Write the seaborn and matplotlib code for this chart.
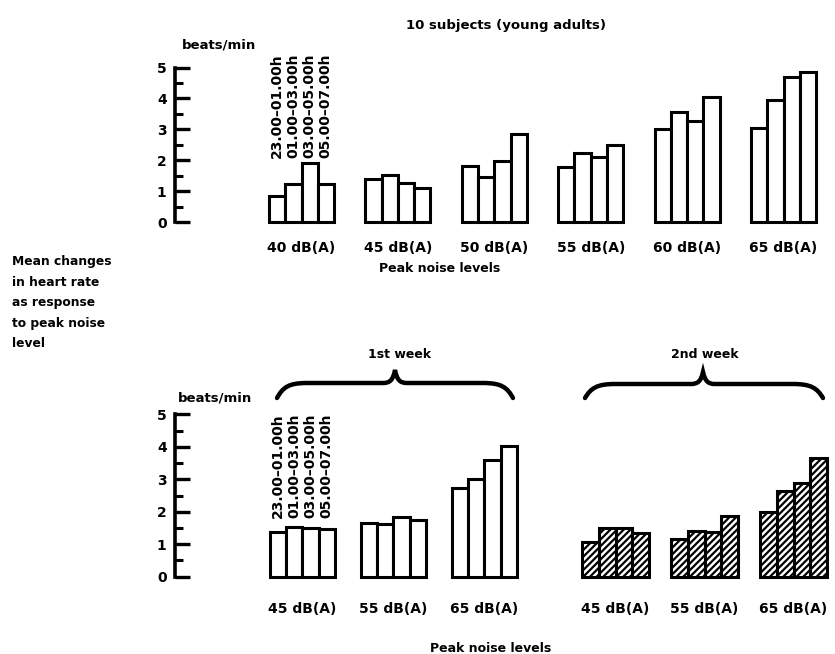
import numpy as np
import pandas as pd
import matplotlib
matplotlib.use("Agg")
import matplotlib.pyplot as plt
from matplotlib.path import Path
from matplotlib.patches import PathPatch
import seaborn as sns

# ---------------- data ----------------
slots = ["23.00–01.00h", "01.00–03.00h", "03.00–05.00h", "05.00–07.00h"]

top_levels = ["40 dB(A)", "45 dB(A)", "50 dB(A)", "55 dB(A)", "60 dB(A)", "65 dB(A)"]
top_40 = [0.85, 1.22, 1.90, 1.22]
top_45 = [1.39, 1.52, 1.27, 1.10]
top_50 = [1.82, 1.47, 1.97, 2.84]
top_55 = [1.79, 2.22, 2.11, 2.49]
top_60 = [3.00, 3.55, 3.28, 4.04]
top_65 = [3.03, 3.95, 4.68, 4.85]

week_levels = ["45 dB(A)", "55 dB(A)", "65 dB(A)"]
wk1_45 = [1.38, 1.54, 1.51, 1.46]
wk1_55 = [1.64, 1.63, 1.83, 1.74]
wk1_65 = [2.72, 3.00, 3.59, 4.02]
wk2_45 = [1.08, 1.49, 1.49, 1.34]
wk2_55 = [1.15, 1.41, 1.37, 1.88]
wk2_65 = [1.98, 2.64, 2.87, 3.66]

title = "10 subjects (young adults)"
side_text = "Mean changes\nin heart rate\nas response\nto peak noise\nlevel"
unit_label = "beats/min"
xlab = "Peak noise levels"
week_names = ["1st week", "2nd week"]


def long_df(levels, rows):
    recs = []
    for lev, vals in zip(levels, rows):
        for s, v in zip(slots, vals):
            recs.append({"level": lev, "slot": s, "value": v})
    return pd.DataFrame(recs)


df_top = long_df(top_levels, [top_40, top_45, top_50, top_55, top_60, top_65])
df_w1 = long_df(week_levels, [wk1_45, wk1_55, wk1_65])
df_w2 = long_df(week_levels, [wk2_45, wk2_55, wk2_65])

# ---------------- style ----------------
sns.set_theme(style="white")
plt.rcParams["font.family"] = ["DejaVu Sans"]
plt.rcParams["font.weight"] = "bold"
plt.rcParams["hatch.linewidth"] = 1.6
for k in ["text.color", "axes.labelcolor", "xtick.color", "ytick.color"]:
    plt.rcParams[k] = "black"

W, H = 835, 654
fig = plt.figure(figsize=(W / 100, H / 100), dpi=100)


def fx(px):
    return px / W


def fy(py):
    return 1 - py / H


def make_axes(left, right, y0, y5, cat0, unit):
    ax = fig.add_axes([fx(left), fy(y0), (right - left) / W, (y0 - y5) / H])
    return ax, ((left - cat0) / unit, (right - cat0) / unit)


def draw_bars(ax, data, order, width, hatch=None):
    sns.barplot(data=data, x="level", y="value", hue="slot", order=order,
                hue_order=slots, palette=["white"] * 4, saturation=1,
                width=width, gap=0, edgecolor="black", linewidth=2.2,
                legend=False, ax=ax, errorbar=None)
    for p in ax.patches:
        p.set_clip_on(False)
        if hatch:
            p.set_hatch(hatch)
    ax.set_xlabel("")
    ax.set_ylabel("")
    ax.set_ylim(0, 5)
    for s in ["top", "right", "bottom"]:
        ax.spines[s].set_visible(False)


def style_y(ax):
    ax.spines["left"].set_linewidth(2.6)
    ax.spines["left"].set_color("black")
    ax.set_yticks(range(0, 6))
    ax.set_yticks(np.arange(0.5, 5, 1.0), minor=True)
    ax.tick_params(axis="y", which="major", direction="in", length=11,
                   width=2.4, color="black", labelsize=10, pad=6, left=True)
    ax.tick_params(axis="y", which="minor", direction="in", length=6,
                   width=2.2, color="black", left=True)
    for t in ax.get_yticklabels():
        t.set_fontweight("bold")


def slot_labels(ax, ybase):
    n = len(ax.patches) // len(slots)
    for j, s in enumerate(slots):
        p = ax.patches[j * n]
        ax.text(p.get_x() + p.get_width() / 2, ybase, s, rotation=90,
                ha="center", va="bottom", fontsize=10, fontweight="bold")


# ---------------- top chart ----------------
ax1, xl1 = make_axes(175, 825, 222, 67.5, 301.5, 96.4)
draw_bars(ax1, df_top, top_levels, 0.674)
ax1.set_xlim(*xl1)
style_y(ax1)
ax1.tick_params(axis="x", length=0, labelsize=10, pad=14)
slot_labels(ax1, 2.07)

# ---------------- bottom charts ----------------
ax2, xl2 = make_axes(175, 545, 576.7, 414.3, 302.5, 91)
draw_bars(ax2, df_w1, week_levels, 0.714)
ax2.set_xlim(*xl2)
style_y(ax2)
ax2.tick_params(axis="x", length=0, labelsize=10, pad=18)
slot_labels(ax2, 1.8)

ax3, xl3 = make_axes(555, 835, 576.7, 414.3, 615.5, 89)
draw_bars(ax3, df_w2, week_levels, 0.753, hatch="/////")
ax3.set_xlim(*xl3)
ax3.spines["left"].set_visible(False)
ax3.set_yticks([])
ax3.tick_params(axis="x", length=0, labelsize=10, pad=18)

for ax in (ax1, ax2, ax3):
    for t in ax.get_xticklabels():
        t.set_fontweight("bold")
    ax.patch.set_alpha(0)

# ---------------- texts ----------------
fig.text(fx(506), fy(25), title, ha="center", va="center", fontsize=9.5, fontweight="bold")
fig.text(fx(219), fy(45), unit_label, ha="center", va="center", fontsize=9.5, fontweight="bold")
fig.text(fx(215), fy(398), unit_label, ha="center", va="center", fontsize=9.5, fontweight="bold")
fig.text(fx(440), fy(269), xlab, ha="center", va="center", fontsize=9, fontweight="bold")
fig.text(fx(491), fy(648), xlab, ha="center", va="center", fontsize=9, fontweight="bold")
fig.text(fx(12), fy(255), side_text, ha="left", va="top", fontsize=8.8,
         fontweight="bold", linespacing=1.75)
fig.text(fx(400), fy(355), week_names[0], ha="center", va="center", fontsize=9, fontweight="bold")
fig.text(fx(705), fy(355), week_names[1], ha="center", va="center", fontsize=9, fontweight="bold")


def brace(x0, x1, xm, yend, yflat, ypeak):
    pts = [(x0, yend),
           (x0 + 6, yflat + 4), (x0 + 12, yflat), (x0 + 30, yflat),
           (xm - 12, yflat),
           (xm - 5, yflat), (xm - 2, yflat - 3), (xm, ypeak),
           (xm + 2, yflat - 3), (xm + 5, yflat), (xm + 12, yflat),
           (x1 - 30, yflat),
           (x1 - 12, yflat), (x1 - 6, yflat + 4), (x1, yend)]
    codes = [Path.MOVETO,
             Path.CURVE4, Path.CURVE4, Path.CURVE4,
             Path.LINETO,
             Path.CURVE4, Path.CURVE4, Path.CURVE4,
             Path.CURVE4, Path.CURVE4, Path.CURVE4,
             Path.LINETO,
             Path.CURVE4, Path.CURVE4, Path.CURVE4]
    path = Path([(fx(x), fy(y)) for x, y in pts], codes)
    fig.add_artist(PathPatch(path, transform=fig.transFigure, fill=False,
                             lw=3.2, edgecolor="black", capstyle="round"))


brace(277, 513, 395, 398, 383, 370)
brace(585, 823, 703, 398, 384, 372)

fig.savefig("out.png", dpi=100)
